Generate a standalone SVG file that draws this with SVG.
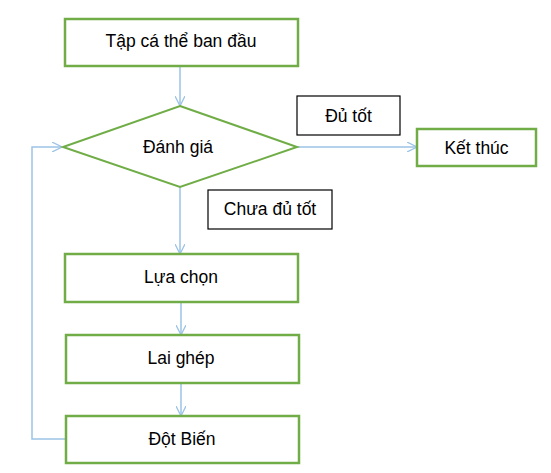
<svg xmlns="http://www.w3.org/2000/svg" width="551" height="473" viewBox="0 0 551 473">
<style>
.node{fill:#fff;stroke:#70AD47;stroke-width:2.5}
.lbl{fill:#fff;stroke:#000;stroke-width:1.2}
.t{font-family:"Liberation Sans",Arial,sans-serif;font-size:17.5px;fill:#000;text-anchor:middle}
.c{fill:none;stroke:#9DC3E6;stroke-width:1.5}
</style>
<defs>
<marker id="ah" viewBox="0 0 10 10" refX="10" refY="5" markerWidth="10" markerHeight="10" markerUnits="userSpaceOnUse" orient="auto">
<polyline points="0,0 10,5 0,10" fill="none" stroke="#9DC3E6" stroke-width="1.3"/>
</marker>
</defs>
<g id="connectors">
<line class="c" x1="180" y1="66" x2="180" y2="106" marker-end="url(#ah)"/>
<line class="c" x1="295" y1="147" x2="417" y2="147" marker-end="url(#ah)"/>
<line class="c" x1="180" y1="187" x2="180" y2="254" marker-end="url(#ah)"/>
<line class="c" x1="181" y1="302" x2="181" y2="335" marker-end="url(#ah)"/>
<line class="c" x1="181" y1="383" x2="181" y2="416" marker-end="url(#ah)"/>
<polyline class="c" points="65,439 32,439 32,147 62,147" marker-end="url(#ah)"/>
</g>
<g id="start">
<rect class="node" x="65" y="19" width="233" height="47"/>
<text class="t" x="181" y="47">Tập cá thể ban đầu</text>
</g>
<g id="evaluate">
<polygon class="node" points="180,106 297,147 180,187 63,147" style="stroke-width:2"/>
<text class="t" x="178" y="153">Đánh giá</text>
</g>
<g id="label-good">
<rect class="lbl" x="297" y="96" width="103" height="39"/>
<text class="t" x="348.5" y="122">Đủ tốt</text>
</g>
<g id="end">
<rect class="node" x="417" y="129" width="119" height="37"/>
<text class="t" x="476.5" y="154">Kết thúc</text>
</g>
<g id="label-notgood">
<rect class="lbl" x="208" y="190" width="124" height="39"/>
<text class="t" x="270" y="215">Chưa đủ tốt</text>
</g>
<g id="select">
<rect class="node" x="65" y="254" width="233" height="48"/>
<text class="t" x="181" y="283">Lựa chọn</text>
</g>
<g id="crossover">
<rect class="node" x="66" y="335" width="233" height="48"/>
<text class="t" x="181" y="364">Lai ghép</text>
</g>
<g id="mutation">
<rect class="node" x="66" y="416" width="233" height="47"/>
<text class="t" x="182" y="445">Đột Biến</text>
</g>
</svg>
